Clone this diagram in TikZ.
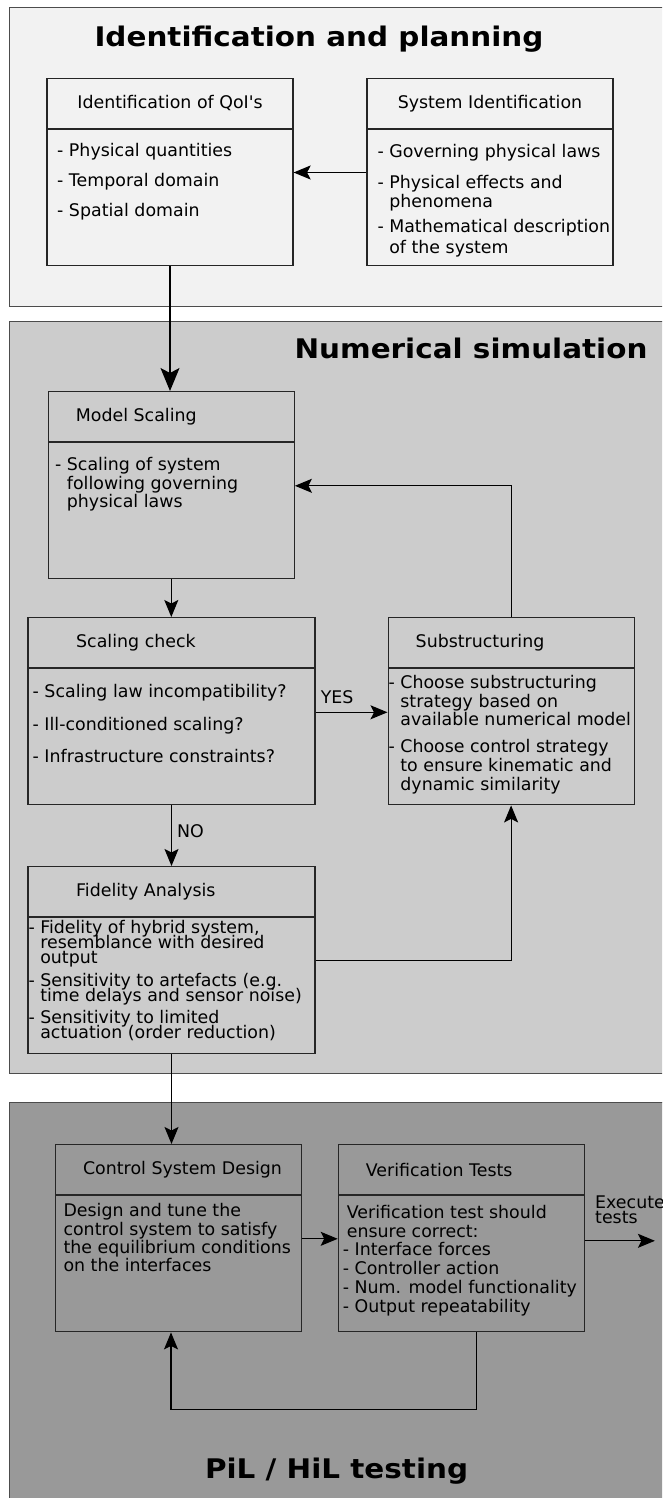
\documentclass[tikz,border=0pt]{standalone}
\usepackage{fontspec}
\setmainfont{DejaVu Sans}
\newfontfamily\titlefont[FakeStretch=1.09]{DejaVu Sans}
\usetikzlibrary{arrows.meta}

\definecolor{planfill}{HTML}{F2F2F2}
\definecolor{simfill}{HTML}{CCCCCC}
\definecolor{testfill}{HTML}{999999}

\newcommand{\ind}{\phantom{- }}
\lineskiplimit=-20pt

\tikzset{
  panel/.style={draw=black!70, line width=1pt},
  ptitle/.style={anchor=base, inner sep=0pt, font=\titlefont\bfseries\fontsize{27pt}{30pt}\selectfont},
  head/.style={draw=black!85, line width=1.2pt, anchor=north west, minimum width=246pt, minimum height=50pt, inner sep=0pt},
  htext/.style={anchor=west, xshift=28pt, inner sep=0pt},
  body/.style={draw=black!85, line width=1.2pt, anchor=north, inner sep=0pt, minimum width=246pt, minimum height=136pt},
  items/.style={anchor=north west, inner sep=0pt, align=left, font=\fontsize{17.4pt}{#1}\selectfont},
  items/.default=19pt,
  flow/.style={line width=1.2pt, -{Stealth[length=17pt, width=14pt, inset=3.5pt]}},
  bigflow/.style={line width=1.2pt, -{Stealth[length=23pt, width=19pt, inset=5pt]}},
  lbl/.style={inner sep=0pt}
}

\begin{document}
\begin{tikzpicture}[x=1pt, y=-1pt, every node/.style={font=\fontsize{17.4pt}{20pt}\selectfont}]
  \useasboundingbox (0,0) rectangle (662,1498);
  \clip (0,0) rectangle (662,1498);
  \fill[white] (0,0) rectangle (662,1498);

  % panels
  \draw[panel, fill=planfill] (9.3,8) rectangle (700,306);
  \draw[panel, fill=simfill] (9.3,321) rectangle (700,1073);
  \draw[panel, fill=testfill] (9.3,1102) rectangle (700,1530);

  \node[ptitle] (tplan) at (319,47) {Identification and planning};
  \node[ptitle] (tsim) at (471,358.3) {Numerical simulation};
  \node[ptitle] (ttest) at (336.6,1478) {PiL / HiL testing};

  % identification and planning
  \node[head] (qih) at (46.4,77.7) {Identification of QoI\textquotesingle s};
  \node[body] (qib) at (qih.south) {};
  \node[items=30pt] (qit) at (57,142.8) {- Physical quantities\\- Temporal domain\\- Spatial domain};

  \node[head] (sih) at (366.4,77.7) {System Identification};
  \node[body] (sib) at (sih.south) {};
  \node[items] (sit) at (377.3,144.1) {- Governing physical laws\\[12pt]- Physical effects and\\\ind phenomena\\[6pt]- Mathematical description\\[2pt]\ind of the system};

  % numerical simulation
  \node[head, label={[htext]west:Model Scaling}] (msh) at (47.7,391) {};
  \node[body] (msb) at (msh.south) {};
  \node[items=18.5pt] (mst) at (54.9,457.5) {- Scaling of system\\\ind following governing\\\ind physical laws};

  \node[head, minimum width=287pt, label={[htext, xshift=20.6pt]west:Scaling check}] (sch) at (27.4,617) {};
  \node[body, minimum width=287pt] (scb) at (sch.south) {};
  \node[items=32.5pt] (sct) at (32.5,684.1) {- Scaling law incompatibility?\\- Ill-conditioned scaling?\\- Infrastructure constraints?};

  \node[head, label={[htext]west:Substructuring}] (sbh) at (387.5,617) {};
  \node[body] (sbb) at (sbh.south) {};
  \node[items=18.7pt] (sbt) at (388.4,675.1) {- Choose substructuring\\\ind strategy based on\\\ind available numerical model\\[8pt]- Choose control strategy\\\ind to ensure kinematic and\\\ind dynamic similarity};

  \node[head, minimum width=287pt, label={[htext, xshift=20.6pt]west:Fidelity Analysis}] (fih) at (27.4,866) {};
  \node[body, minimum width=287pt] (fib) at (fih.south) {};
  \node[items=15pt] (fit) at (28.3,920.1) {- Fidelity of hybrid system,\\\ind resemblance with desired\\\ind output\\[7.7pt]- Sensitivity to artefacts (e.g.\\\ind time delays and sensor noise)\\[7.7pt]- Sensitivity to limited\\\ind actuation (order reduction)};

  % PiL / HiL testing
  \node[head, label={[htext]west:Control System Design}] (ch) at (54.9,1144) {};
  \node[body] (cb) at (ch.south) {};
  \node[items=18.2pt] (ct) at (63.3,1203.5) {Design and tune the\\control system to satisfy\\the equilibrium conditions\\on the interfaces};

  \node[head, label={[htext]west:Verification Tests}] (vh) at (337.7,1144) {};
  \node[body] (vb) at (vh.south) {};
  \node[items=18.7pt] (vt) at (342.7,1205.1) {\hspace*{4pt}Verification test should\\\hspace*{4pt}ensure correct:\\- Interface forces\\- Controller action\\- Num. model functionality\\- Output repeatability};

  \coordinate (exec) at ([xshift=70pt, yshift=23pt]vb.east);
  \node[items=15.5pt] (ext) at (595,1195.3) {Execute\\tests};

  % connectors
  \draw[flow] ([yshift=25pt]sib.west) -- ([yshift=25pt]qib.east);
  \draw[bigflow] (qib.south) -- (qib.south |- msh.north);
  \draw[flow] (msb.south) -- (msb.south |- sch.north);
  \draw[flow] ([yshift=24.5pt]scb.east) -- ([yshift=24.5pt]scb.east -| sbb.west)
    node[lbl, pos=0.3, above=8pt] (yes) {YES};
  \draw[flow] (scb.south) -- (scb.south |- fih.north)
    node[lbl, midway, right=5pt, yshift=5pt] (no) {NO};
  \draw[flow] ([yshift=25pt]fib.east) -| (sbb.south);
  \draw[flow] (sbh.north) |- ([yshift=25pt]msb.east);
  \draw[flow] (fib.south) -- (fib.south |- ch.north);
  \draw[flow] ([yshift=25pt]cb.east) -- ([yshift=25pt]cb.east -| vb.west);
  \draw[flow] ([yshift=23pt]vb.east) -- (exec);
  \draw[flow] ([xshift=15.5pt]vb.south) -- ++(0,77) -| ([xshift=-7.5pt]cb.south);
\end{tikzpicture}
\end{document}
